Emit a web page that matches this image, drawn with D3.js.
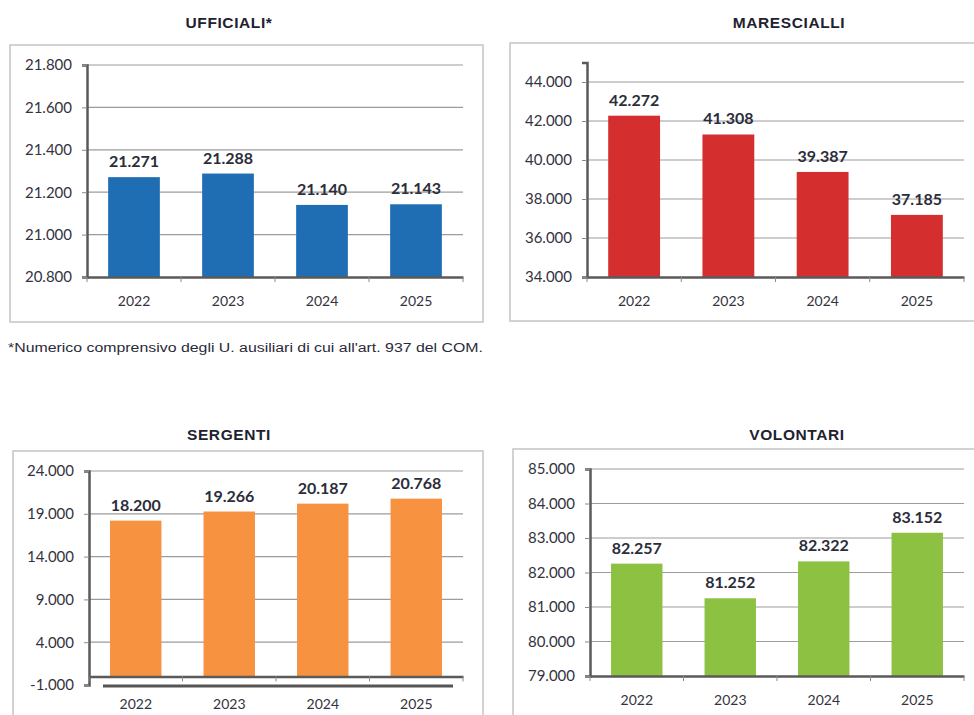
<!DOCTYPE html>
<html>
<head>
<meta charset="utf-8">
<script src="https://cdn.jsdelivr.net/npm/d3@7"></script>
<style>
  body { margin: 0; background: #fff; }
  svg { display: block; }
</style>
</head>
<body>
<svg id="chart" width="974" height="715"></svg>
<script>
// data
const years = ["2022", "2023", "2024", "2025"];

const ufficiali = [21271, 21288, 21140, 21143];
const marescialli = [42272, 41308, 39387, 37185];
const sergenti = [18200, 19266, 20187, 20768];
const volontari = [82257, 81252, 82322, 83152];

const ufficialiTicks = [20800, 21000, 21200, 21400, 21600, 21800];
const marescialliTicks = [34000, 36000, 38000, 40000, 42000, 44000];
const sergentiTicks = [-1000, 4000, 9000, 14000, 19000, 24000];
const volontariTicks = [79000, 80000, 81000, 82000, 83000, 84000, 85000];

const footnote = "*Numerico comprensivo degli U. ausiliari di cui all'art. 937 del COM.";

// italian number format: 21.271
const fmt = d3.formatLocale({
  decimal: ",",
  thousands: ".",
  grouping: [3],
  currency: ["€", ""],
  minus: "-",
}).format(",d");

const svg = d3.select("#chart");

/**
 * One boxed bar chart panel.
 */
function drawPanel({ title, titleX, titleY, box, plot, domain, ticks, values, color, floor }) {
  const g = svg.append("g");

  // frame
  g.append("rect")
    .attr("x", box.x)
    .attr("y", box.y)
    .attr("width", box.w)
    .attr("height", box.h)
    .attr("fill", "none")
    .attr("stroke", "#c4c4c4")
    .attr("stroke-width", 1.5);

  g.append("text")
    .attr("x", titleX)
    .attr("y", titleY)
    .attr("text-anchor", "middle")
    .style("font-family", "'Liberation Sans', Arial, sans-serif")
    .style("font-weight", "bold")
    .style("font-size", "15.5px")
    .style("letter-spacing", "0.6px")
    .style("fill", "#1e2230")
    .text(title);

  const x = d3.scaleBand()
    .domain(years)
    .range([plot.x0, plot.x1])
    .paddingInner(0.45)
    .paddingOuter(0.225);

  const y = d3.scaleLinear().domain(domain).range([plot.yb, plot.yt]);

  // gridlines
  g.append("g")
    .selectAll("line")
    .data(ticks.filter((t) => t !== domain[0]))
    .join("line")
    .attr("x1", plot.x0)
    .attr("x2", plot.x1)
    .attr("y1", (d) => y(d))
    .attr("y2", (d) => y(d))
    .attr("stroke", "#9c9c9c")
    .attr("stroke-width", 1.2);

  // y axis
  const yAxis = g.append("g")
    .attr("transform", `translate(${plot.x0},0)`)
    .call(d3.axisLeft(y).tickValues(ticks).tickFormat(fmt).tickSize(5).tickPadding(10));
  yAxis.select(".domain").attr("stroke", "#5a5a5a").attr("stroke-width", 2.5);
  yAxis.selectAll(".tick line").attr("stroke", "#8a8a8a");
  yAxis.selectAll("text")
    .style("font-family", "Lato, 'Open Sans', sans-serif")
    .style("font-size", "15px")
    .style("fill", "#333340");

  // bars
  const base = Math.max(domain[0], 0);
  g.append("g")
    .selectAll("rect")
    .data(values)
    .join("rect")
    .attr("x", (d, i) => x(years[i]))
    .attr("y", (d) => y(d))
    .attr("width", x.bandwidth())
    .attr("height", (d) => y(base) - y(d))
    .attr("fill", color);

  // data labels
  g.append("g")
    .selectAll("text")
    .data(values)
    .join("text")
    .attr("x", (d, i) => x(years[i]) + x.bandwidth() / 2)
    .attr("y", (d) => y(d) - 10)
    .attr("text-anchor", "middle")
    .style("font-family", "Lato, 'Open Sans', sans-serif")
    .style("font-weight", "bold")
    .style("font-size", "16px")
    .style("fill", "#2b2d3a")
    .text((d) => fmt(d));

  // x axis (at zero or bottom of domain)
  const xAxis = g.append("g")
    .attr("transform", `translate(0,${y(base)})`)
    .call(d3.axisBottom(x).tickSize(0).tickPadding(19));
  xAxis.select(".domain").attr("stroke", "#5a5a5a").attr("stroke-width", 2.5);
  xAxis.selectAll("text")
    .style("font-family", "Lato, 'Open Sans', sans-serif")
    .style("font-size", "14px")
    .style("fill", "#333340");

  // small ticks between categories
  const step = x.step();
  g.append("g")
    .selectAll("line")
    .data(d3.range(years.length + 1))
    .join("line")
    .attr("x1", (i) => plot.x0 + i * step)
    .attr("x2", (i) => plot.x0 + i * step)
    .attr("y1", y(base))
    .attr("y2", y(base) + 5)
    .attr("stroke", "#8a8a8a");

  // 3d floor shadow (sergenti)
  if (floor) {
    g.append("line")
      .attr("x1", plot.x0 + 14)
      .attr("x2", plot.x1 - 10)
      .attr("y1", y(domain[0]) + 1)
      .attr("y2", y(domain[0]) + 1)
      .attr("stroke", "#555")
      .attr("stroke-width", 3);
    xAxis.selectAll("text").attr("dy", "1.0em");
  }
}

drawPanel({
  title: "UFFICIALI*",
  titleX: 229,
  titleY: 28,
  box: { x: 10, y: 45, w: 473, h: 277 },
  plot: { x0: 87, x1: 463, yt: 65, yb: 277 },
  domain: [20800, 21800],
  ticks: ufficialiTicks,
  values: ufficiali,
  color: "#1f6db2",
});

drawPanel({
  title: "MARESCIALLI",
  titleX: 789,
  titleY: 28,
  box: { x: 510, y: 43, w: 480, h: 278 },
  plot: { x0: 587, x1: 964, yt: 62.5, yb: 277 },
  domain: [34000, 45000],
  ticks: marescialliTicks,
  values: marescialli,
  color: "#d42e2e",
});

drawPanel({
  title: "SERGENTI",
  titleX: 229,
  titleY: 440,
  box: { x: 13, y: 451, w: 470, h: 280 },
  plot: { x0: 89, x1: 463, yt: 471, yb: 685 },
  domain: [-1000, 24000],
  ticks: sergentiTicks,
  values: sergenti,
  color: "#f79241",
  floor: true,
});

drawPanel({
  title: "VOLONTARI",
  titleX: 797,
  titleY: 440,
  box: { x: 513, y: 449, w: 480, h: 280 },
  plot: { x0: 590, x1: 964, yt: 469, yb: 676 },
  domain: [79000, 85000],
  ticks: volontariTicks,
  values: volontari,
  color: "#8cc142",
});

// footnote
svg.append("text")
  .attr("x", 8)
  .attr("y", 352)
  .attr("textLength", 475)
  .attr("lengthAdjust", "spacingAndGlyphs")
  .style("font-family", "'Liberation Sans', Arial, sans-serif")
  .style("font-size", "12px")
  .style("fill", "#2a2a3a")
  .text(footnote);
</script>
</body>
</html>
